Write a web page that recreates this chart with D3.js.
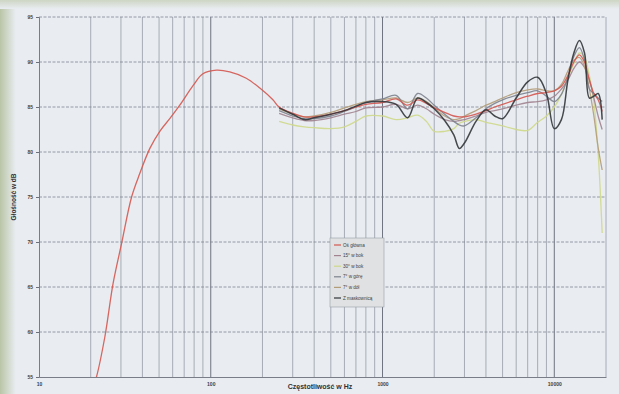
<!DOCTYPE html>
<html><head><meta charset="utf-8">
<script src="https://cdn.jsdelivr.net/npm/d3@7"></script>
<style>
html,body{margin:0;padding:0;background:#e8ecf1;}
svg{display:block;}
</style></head>
<body>
<script>
// ---- data ----
const yTicks = [55, 60, 65, 70, 75, 80, 85, 90, 95];
const xTickLabels = [10, 100, 1000, 10000];
const seriesNames = ["Oś główna", "15° w bok", "30° w bok", "7° w górę", "7° w dół", "Z maskownicą"];
const seriesColors = ["#d4574f", "#a1838f", "#cfd88a", "#7d828d", "#b39c78", "#33363a"];

// main axis low-frequency part (Hz, dB)
const freqMainLow = [21, 21.6, 24.2, 27, 30.3, 34.6, 38.6, 44.2, 50.5, 57.7, 66, 79, 90, 108, 129, 161, 193, 230];
const dbMainLow   = [54.3, 55, 59.5, 65.4, 69.9, 75, 77.6, 80.4, 82.3, 83.7, 85.2, 87.4, 88.7, 89.1, 88.9, 88.2, 87.1, 85.8];

const freqOff = [250, 300, 350, 400, 500, 600, 700, 800, 1000, 1200, 1400, 1600, 1800, 2000, 2300, 2600, 2800, 3000, 3500, 4000, 4500, 5000, 6000, 7000, 8000, 9000, 10000, 11000, 12000, 13000, 14000, 15000, 16000, 17000, 18000, 19000];
const dbMain    = [85.0, 84.3, 83.9, 83.9, 84.2, 84.6, 85.0, 85.3, 85.5, 85.9, 85.2, 85.8, 85.4, 84.9, 84.4, 84.0, 83.9, 83.9, 84.2, 84.6, 85.0, 85.3, 85.8, 86.2, 86.5, 86.6, 86.8, 87.3, 88.5, 90.0, 90.8, 90.0, 88.0, 86.5, 85.8, 84.5];
const db15side  = [84.3, 83.8, 83.5, 83.5, 83.8, 84.2, 84.5, 84.9, 85.0, 85.3, 84.8, 85.2, 84.8, 84.2, 83.6, 83.4, 83.5, 83.6, 84.0, 84.4, 84.6, 84.8, 85.2, 85.5, 85.6, 85.8, 86.2, 87.0, 88.0, 89.3, 90.0, 89.4, 88.0, 86.0, 84.0, 82.5];
const db30side  = [83.4, 83.0, 82.8, 82.7, 82.6, 82.8, 83.4, 84.0, 84.0, 83.6, 83.8, 84.1, 83.4, 82.3, 82.3, 82.6, 83.2, 83.4, 83.6, 83.3, 83.1, 82.9, 82.5, 82.4, 83.3, 84.0, 85.0, 86.4, 88.3, 89.8, 91.0, 90.5, 88.5, 85.5, 79.9, 71.0];
const db7up     = [84.6, 84.0, 83.7, 83.7, 84.0, 84.5, 85.0, 85.5, 85.9, 86.3, 84.8, 86.5, 86.0, 85.2, 84.2, 83.4, 83.0, 82.9, 83.8, 84.8, 85.4, 85.8, 86.3, 86.6, 86.8, 86.2, 85.6, 86.4, 88.4, 90.6, 91.6, 90.2, 87.0, 86.5, 86.0, 85.6];
const db7down   = [84.8, 84.2, 83.9, 84.0, 84.4, 84.9, 85.3, 85.6, 85.8, 86.0, 85.5, 86.0, 85.6, 84.9, 84.0, 83.6, 83.7, 84.0, 84.6, 85.2, 85.6, 86.0, 86.6, 86.9, 87.0, 86.8, 86.8, 87.5, 89.0, 90.2, 90.5, 89.5, 87.0, 84.0, 80.5, 78.0];
const dbGrille  = [84.9, 84.2, 83.6, 83.8, 84.2, 84.6, 85.1, 85.5, 85.6, 85.3, 83.8, 86.0, 85.5, 84.8, 83.5, 81.9, 80.4, 81.0, 83.4, 84.7, 84.0, 83.7, 86.0, 87.8, 88.3, 86.5, 82.6, 83.6, 88.0, 91.0, 92.4, 91.0, 86.0, 86.2, 86.5, 83.6];

// ---- layout ----
const W = 619, H = 394;
const svg = d3.select("body").append("svg").attr("width", W).attr("height", H);

// scanned-page look
svg.append("rect").attr("width", W).attr("height", H).attr("fill", "#e9edf2");
const grad = svg.append("defs").append("linearGradient").attr("id", "lg").attr("x1", 0).attr("x2", 1);
grad.append("stop").attr("offset", 0).attr("stop-color", "#b9c5a6");
grad.append("stop").attr("offset", 1).attr("stop-color", "#e9edf2");
svg.append("rect").attr("x", 0).attr("y", 0).attr("width", 16).attr("height", H).attr("fill", "url(#lg)");
const gradT = svg.select("defs").append("linearGradient").attr("id", "lgt").attr("x1", 0).attr("x2", 0).attr("y1", 0).attr("y2", 1);
gradT.append("stop").attr("offset", 0).attr("stop-color", "#cdd5c3");
gradT.append("stop").attr("offset", 1).attr("stop-color", "#e9edf2");
svg.append("rect").attr("x", 0).attr("y", 0).attr("width", W).attr("height", 9).attr("fill", "url(#lgt)");

const x = d3.scaleLog().domain([10, 20000]).range([39, 606]);
const y = d3.scaleLinear().domain([55, 95]).range([377, 17]);

svg.select("defs").append("clipPath").attr("id", "clip")
  .append("rect").attr("x", 39).attr("y", 17).attr("width", 567).attr("height", 360);

// vertical grid (log minor)
const vTicks = x.ticks(40).filter(v => v > 10 && v <= 20000);
svg.append("g").selectAll("line").data(vTicks).join("line")
  .attr("x1", d => x(d)).attr("x2", d => x(d))
  .attr("y1", 17).attr("y2", 377)
  .attr("stroke", d => [100, 1000, 10000].includes(d) ? "#6e7380" : "#959aa5")
  .attr("stroke-width", d => [100, 1000, 10000].includes(d) ? 1 : 0.8);

// horizontal grid
svg.append("g").selectAll("line").data(yTicks.filter(v => v > 55)).join("line")
  .attr("x1", 39).attr("x2", 606)
  .attr("y1", d => y(d)).attr("y2", d => y(d))
  .attr("stroke", "#7f8490").attr("stroke-width", 0.8).attr("stroke-dasharray", "3,1.5");

// axes
const yAxis = d3.axisLeft(y).tickValues(yTicks).tickSize(3).tickFormat(d3.format("d"));
const gy = svg.append("g").attr("transform", "translate(39,0)").call(yAxis);
const xAxis = d3.axisBottom(x).tickValues(xTickLabels).tickSize(0).tickFormat(d3.format("d"));
const gx = svg.append("g").attr("transform", "translate(0,377)").call(xAxis);
[gy, gx].forEach(g => {
  g.select(".domain").attr("stroke", "#6b707b").attr("stroke-width", 0.9);
  g.selectAll(".tick line").attr("stroke", "#6b707b");
  g.selectAll("text").attr("fill", "#3c3f45").attr("font-family", "Liberation Sans, Arial, sans-serif")
    .attr("font-size", 5).attr("font-weight", "bold");
});
gx.selectAll("text").attr("dy", "1.2em");

// axis titles
svg.append("text").attr("x", 320).attr("y", 389).attr("text-anchor", "middle")
  .attr("font-family", "Liberation Sans, Arial, sans-serif").attr("font-size", 7).attr("font-weight", "bold")
  .attr("fill", "#2e3136").text("Częstotliwość w Hz");
svg.append("text").attr("transform", "translate(16,197) rotate(-90)").attr("text-anchor", "middle")
  .attr("font-family", "Liberation Sans, Arial, sans-serif").attr("font-size", 6.5).attr("font-weight", "bold")
  .attr("fill", "#2e3136").text("Głośność w dB");

// series
const line = d3.line().x(d => x(d[0])).y(d => y(d[1])).curve(d3.curveCatmullRom.alpha(0.5));
const offSeries = [db15side, db30side, db7up, db7down, dbGrille];
const plot = svg.append("g").attr("clip-path", "url(#clip)");
const order = [2, 1, 4, 3, 0, 5];
order.forEach(i => {
  let pts;
  if (i === 0) {
    pts = freqMainLow.map((f, k) => [f, dbMainLow[k]]).concat(freqOff.map((f, k) => [f, dbMain[k]]));
  } else {
    pts = freqOff.map((f, k) => [f, offSeries[i - 1][k]]);
  }
  plot.append("path").datum(pts).attr("d", line).attr("fill", "none")
    .attr("stroke", seriesColors[i]).attr("stroke-width", i === 5 ? 1.5 : 1.3)
    .attr("stroke-linejoin", "round").attr("opacity", 0.9);
});

// legend
const lg = svg.append("g");
lg.append("rect").attr("x", 330).attr("y", 238).attr("width", 54).attr("height", 69)
  .attr("fill", "#dfe1e3").attr("stroke", "#9a9ea6").attr("stroke-width", 0.6);
seriesNames.forEach((n, i) => {
  const yy = 245 + i * 10.6;
  lg.append("line").attr("x1", 334).attr("x2", 341).attr("y1", yy).attr("y2", yy)
    .attr("stroke", seriesColors[i]).attr("stroke-width", 1.2);
  lg.append("text").attr("x", 343).attr("y", yy + 1.6)
    .attr("font-family", "Liberation Sans, Arial, sans-serif").attr("font-size", 4.6)
    .attr("fill", "#3a3d42").text(n);
});
</script>
</body></html>
